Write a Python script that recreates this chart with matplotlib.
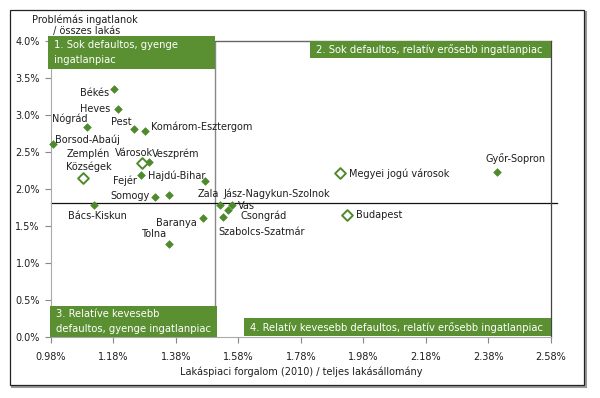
import matplotlib

matplotlib.use("Agg")
import matplotlib.pyplot as plt
from matplotlib.patches import Rectangle
from matplotlib.ticker import FuncFormatter

# megyék: lakáspiaci forgalom (%) és problémás ingatlanok aránya (%)
county_names = [
    "Békés", "Heves", "Nógrád", "Pest", "Komárom-Esztergom",
    "Borsod-Abaúj-Zemplén", "Veszprém", "Fejér", "Hajdú-Bihar", "Somogy",
    "Zala", "Bács-Kiskun", "Baranya", "Tolna", "Jász-Nagykun-Szolnok",
    "Vas", "Csongrád", "Szabolcs-Szatmár", "Győr-Sopron",
]
county_turnover = [
    1.183, 1.196, 1.094, 1.247, 1.281,
    0.987, 1.294, 1.268, 1.474, 1.314,
    1.359, 1.119, 1.465, 1.359, 1.522,
    1.559, 1.545, 1.530, 2.406,
]
county_problem = [
    3.347, 3.085, 2.842, 2.811, 2.784,
    2.604, 2.365, 2.193, 2.108, 1.888,
    1.919, 1.784, 1.612, 1.257, 1.784,
    1.784, 1.716, 1.626, 2.226,
]

# településtípusok (üres jelölő)
group_names = ["Városok", "Községek", "Megyei jogú városok", "Budapest"]
group_turnover = [1.271, 1.084, 1.904, 1.926]
group_problem = [2.355, 2.145, 2.220, 1.649]

# kvadráns határok
split_turnover = 1.506
split_problem = 1.81

x_ticks = [0.98, 1.18, 1.38, 1.58, 1.78, 1.98, 2.18, 2.38, 2.58]
y_ticks = [0.0, 0.5, 1.0, 1.5, 2.0, 2.5, 3.0, 3.5, 4.0]

# címkék pontban megadott eltolással: név -> [(szövegrész, dx, dy, ha), ...]
county_labels = {
    "Békés": [("Békés", -4, -3, "right")],
    "Heves": [("Heves", -6, 0, "right")],
    "Nógrád": [("Nógrád", -12, 6, "center")],
    "Pest": [("Pest", -2, 5, "right")],
    "Komárom-Esztergom": [("Komárom-Esztergom", 4, 3, "left")],
    "Borsod-Abaúj-Zemplén": [("Borsod-Abaúj", 1, 3, "left"), ("Zemplén", 10, -7, "left")],
    "Veszprém": [("Veszprém", 2, 6, "left")],
    "Fejér": [("Fejér", -3, -4, "right")],
    "Hajdú-Bihar": [("Hajdú-Bihar", 0, 4, "right")],
    "Somogy": [("Somogy", -4, 1, "right")],
    "Zala": [("Zala", 20, 1, "left")],
    "Bács-Kiskun": [("Bács-Kiskun", 2, -8, "center")],
    "Baranya": [("Baranya", -4, -4, "right")],
    "Tolna": [("Tolna", -2, 7, "right")],
    "Jász-Nagykun-Szolnok": [("Jász-Nagykun-Szolnok", 2, 8, "left")],
    "Vas": [("Vas", 4, -1, "left")],
    "Csongrád": [("Csongrád", 9, -4, "left")],
    "Szabolcs-Szatmár": [("Szabolcs-Szatmár", -3, -11, "left")],
    "Győr-Sopron": [("Győr-Sopron", 14, 10, "center")],
}
group_offsets = {
    "Városok": (-6, 7, "center"),
    "Községek": (4, 8, "center"),
    "Megyei jogú városok": (7, -1, "left"),
    "Budapest": (7, 0, "left"),
}

GREEN = "#5a8f32"
MARKER_GREEN = "#4e8a2c"
TEXT = "#1e1e1e"

plt.rcParams["font.family"] = ["DejaVu Sans"]

fig = plt.figure(figsize=(6, 3.98), dpi=100)

# külső keret árnyékkal
fig.patches.append(Rectangle((0.0200, 0.0280), 0.957, 0.942, transform=fig.transFigure,
                             facecolor="none", edgecolor="#9a9a9a", linewidth=1.5, zorder=-10))
fig.patches.append(Rectangle((0.0167, 0.0327), 0.957, 0.942, transform=fig.transFigure,
                             facecolor="white", edgecolor="#222222", linewidth=0.9, zorder=-9))

ax = fig.add_axes([0.085, 0.1533, 0.8333, 0.7437])
ax.set_xlim(x_ticks[0], x_ticks[-1])
ax.set_ylim(y_ticks[0], y_ticks[-1])
ax.set_xticks(x_ticks)
ax.set_yticks(y_ticks)
ax.xaxis.set_major_formatter(FuncFormatter(lambda v, _: f"{v:.2f}%"))
ax.yaxis.set_major_formatter(FuncFormatter(lambda v, _: f"{v:.1f}%"))
ax.tick_params(axis="both", direction="out", length=4, width=0.8, color="#888888",
               labelsize=7, labelcolor=TEXT)
ax.tick_params(axis="x", pad=7)
ax.tick_params(axis="y", pad=4)
ax.patch.set_alpha(0)
ax.spines["top"].set_visible(False)
ax.spines["left"].set_color("#aaaaaa")
ax.spines["bottom"].set_color("#aaaaaa")
ax.spines["right"].set_color("#444444")
ax.spines["right"].set_linewidth(0.9)

# kvadráns vonalak
ax.axvline(split_turnover, color="#888888", linewidth=1.0, zorder=2)
ax.plot([split_turnover, x_ticks[-1]], [y_ticks[-1], y_ticks[-1]], color="#666666",
        linewidth=1.0, clip_on=False, zorder=2)
ax.plot([x_ticks[0], x_ticks[-1] + 0.02], [split_problem, split_problem], color="#111111",
        linewidth=0.9, clip_on=False, zorder=2)

ax.scatter(county_turnover, county_problem, marker="D", s=15, color=MARKER_GREEN,
           edgecolors=MARKER_GREEN, linewidths=0.5, zorder=4, clip_on=False)
ax.scatter(group_turnover, group_problem, marker="D", s=30, facecolors="white",
           edgecolors=MARKER_GREEN, linewidths=1.4, zorder=4)

for name, x, y in zip(county_names, county_turnover, county_problem):
    for part, dx, dy, ha in county_labels[name]:
        ax.annotate(part, (x, y), xytext=(dx, dy), textcoords="offset points", ha=ha,
                    va="center", fontsize=7, color=TEXT, zorder=5)
for name, x, y in zip(group_names, group_turnover, group_problem):
    dx, dy, ha = group_offsets[name]
    ax.annotate(name, (x, y), xytext=(dx, dy), textcoords="offset points", ha=ha,
                va="center", fontsize=7, color=TEXT, zorder=5)

# kvadráns feliratok zöld dobozokban
boxes = [
    ((-0.006, 0.905), 0.334, 0.112, "1. Sok defaultos, gyenge\ningatlanpiac"),
    ((0.518, 0.943), 0.482, 0.057, "2. Sok defaultos, relatív erősebb ingatlanpiac"),
    ((-0.002, 0.0), 0.334, 0.105, "3. Relatíve kevesebb\ndefaultos, gyenge ingatlanpiac"),
    ((0.386, 0.003), 0.614, 0.061, "4. Relatív kevesebb defaultos, relatív erősebb ingatlanpiac"),
]
for (bx, by), bw, bh, label in boxes:
    ax.add_patch(Rectangle((bx, by), bw, bh, transform=ax.transAxes, facecolor=GREEN,
                           edgecolor="none", clip_on=False, zorder=6))
    ax.text(bx + 0.012, by + bh / 2, label, transform=ax.transAxes, ha="left", va="center",
            fontsize=7.2, color="white", linespacing=1.7, zorder=7)

fig.text(0.142, 0.937, "Problémás ingatlanok\n / összes lakás", ha="center", va="center",
         fontsize=7, color=TEXT, linespacing=1.2)
ax.set_xlabel("Lakáspiaci forgalom (2010) / teljes lakásállomány", fontsize=7, color=TEXT,
              labelpad=3)

fig.savefig("out.png", dpi=100)
